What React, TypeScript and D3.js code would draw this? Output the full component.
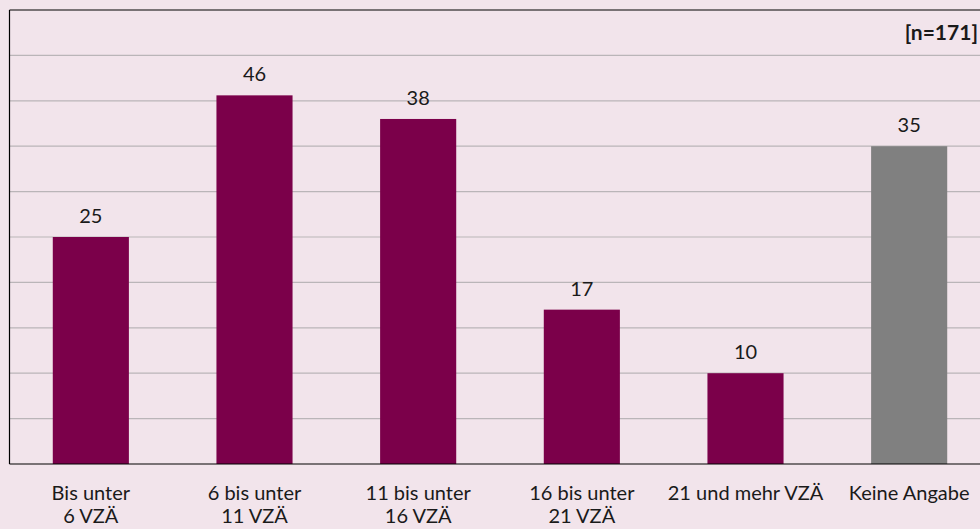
import React from "react";
import * as d3 from "d3";

const categories: string[][] = [
  ["Bis unter", "6 VZÄ"],
  ["6 bis unter", "11 VZÄ"],
  ["11 bis unter", "16 VZÄ"],
  ["16 bis unter", "21 VZÄ"],
  ["21 und mehr VZÄ"],
  ["Keine Angabe"],
];
// printed values (labels)
const labelValues: number[] = [25, 46, 38, 17, 10, 35];
// bar heights as drawn in the reference (the "46" bar is drawn shorter)
const barValues: number[] = [25, 40.6, 38, 17, 10, 35];
const barColors: string[] = ["#7b004a", "#7b004a", "#7b004a", "#7b004a", "#7b004a", "#808080"];
const gridTicks: number[] = [5, 10, 15, 20, 25, 30, 35, 40, 45];
const sampleNote = "[n=171]";

const W = 980;
const H = 529;
const FONT = "Lato, 'Open Sans', sans-serif";

export default function App() {
  const left = 9.5;
  const top = 10;
  const bottom = 464;
  const ids = categories.map((_, i) => String(i));
  const x = d3.scaleBand<string>().domain(ids).range([9, 991]).paddingInner(0.535).paddingOuter(0.2675);
  const y = d3.scaleLinear().domain([0, 50]).range([bottom, top]);

  return (
    <svg width={W} height={H} style={{ position: "absolute", left: 0, top: 0, display: "block" }}>
      <rect x={0} y={0} width={W} height={H} fill="#f2e4eb" />
      {gridTicks.map((t) => (
        <line key={t} x1={left} x2={W} y1={y(t)} y2={y(t)} stroke="#bab5b8" strokeWidth={1.2} />
      ))}
      {barValues.map((v, i) => (
        <rect
          key={i}
          x={x(ids[i])}
          width={x.bandwidth()}
          y={y(v)}
          height={y(0) - y(v)}
          fill={barColors[i]}
        />
      ))}
      {/* frame */}
      <line x1={left} x2={W} y1={y(50)} y2={y(50)} stroke="#000" strokeWidth={1.2} />
      <line x1={left} x2={left} y1={y(50)} y2={y(0)} stroke="#000" strokeWidth={1.2} />
      <line x1={left} x2={W} y1={y(0)} y2={y(0)} stroke="#000" strokeWidth={1.2} />
      {labelValues.map((v, i) => (
        <text
          key={i}
          x={(x(ids[i]) as number) + x.bandwidth() / 2}
          y={y(barValues[i]) - 14}
          textAnchor="middle"
          fontFamily={FONT}
          fontSize={20}
          fill="#1a1a1a"
        >
          {v}
        </text>
      ))}
      {categories.map((lines, i) => (
        <text
          key={i}
          x={(x(ids[i]) as number) + x.bandwidth() / 2}
          y={500}
          textAnchor="middle"
          fontFamily={FONT}
          fontSize={20}
          fill="#1a1a1a"
        >
          {lines.map((l, j) => (
            <tspan key={j} x={(x(ids[i]) as number) + x.bandwidth() / 2} dy={j === 0 ? 0 : 23}>
              {l}
            </tspan>
          ))}
        </text>
      ))}
      <text x={978} y={40} textAnchor="end" fontFamily={FONT} fontSize={21} fontWeight="bold" fill="#1a1a1a">
        {sampleNote}
      </text>
    </svg>
  );
}
